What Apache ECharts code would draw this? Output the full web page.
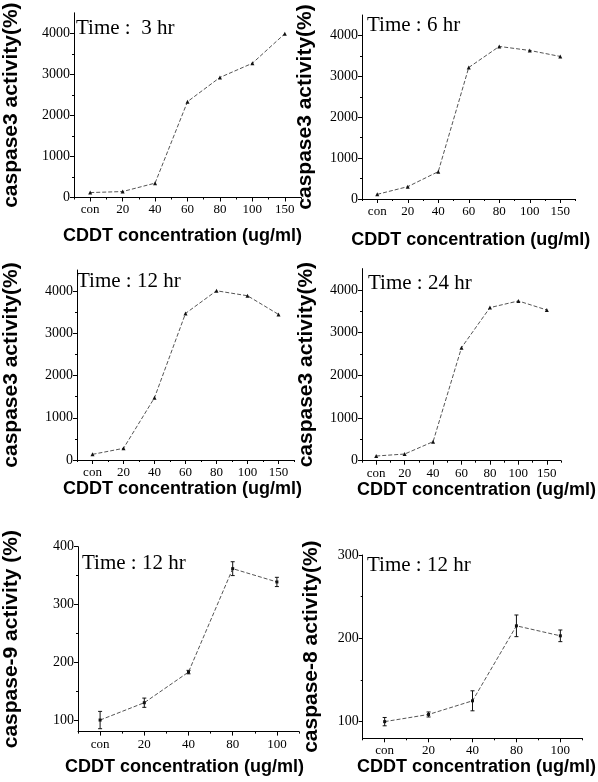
<!DOCTYPE html>
<html><head><meta charset="utf-8">
<script src="https://cdn.jsdelivr.net/npm/echarts@6/dist/echarts.min.js"></script>
<style>html,body{margin:0;padding:0;background:#fff}#c{width:598px;height:782px}</style>
</head><body><div id="c"></div>
<script>
// ---------- data ----------
const catsLong = ['con','20','40','60','80','100','150'];
const catsShort = ['con','20','40','80','100'];
const casp3_3hr  = [120, 145, 350, 2335, 2925, 3270, 3990];
const casp3_6hr  = [114, 302, 669, 3216, 3731, 3633, 3486];
const casp3_12hr = [134, 276, 1475, 3471, 4008, 3890, 3448];
const casp3_24hr = [110, 156, 445, 2648, 3586, 3742, 3531];
const casp9_12hr = [100, 130, 183, 362, 339];
const casp9_err  = [15, 8, 3, 12, 8];
const casp8_12hr = [100, 108.6, 125, 215, 203];
const casp8_err  = [5, 3, 12, 13, 7];
const yTicksCasp3 = [0, 1000, 2000, 3000, 4000];
const yMinorCasp3 = [500, 1500, 2500, 3500];
const yTicksCasp9 = [100, 200, 300, 400];
const yMinorCasp9 = [150, 250, 350];
const yTicksCasp8 = [100, 200, 300];
const yMinorCasp8 = [150, 250];
const panelTitles = ['Time :  3 hr', 'Time : 6 hr', 'Time : 12 hr', 'Time : 24 hr', 'Time : 12 hr', 'Time : 12 hr'];
const yNames = ['caspase3 activity(%)', 'caspase3 activity(%)', 'caspase3 activity(%)', 'caspase3 activity(%)', 'caspase-9 activity (%)', 'caspase-8 activity(%)'];
const xName = 'CDDT concentration (ug/ml)';

// ---------- layout (positions/styles) ----------
const panels = [
  {cats: catsLong, vals: casp3_3hr, err: null, yMin: 0, yMax: 4500, major: yTicksCasp3, minor: yMinorCasp3,
   grid: {left: 70, top: 12.8, width: 231, height: 184.7}, xGap: 30, xShift: -5, yGap: 52, title: [76, 17.5]},
  {cats: catsLong, vals: casp3_6hr, err: null, yMin: 0, yMax: 4500, major: yTicksCasp3, minor: yMinorCasp3,
   grid: {left: 362, top: 15, width: 213.5, height: 184}, xGap: 32, xShift: 2, yGap: 46, title: [367, 14.5]},
  {cats: catsLong, vals: casp3_12hr, err: null, yMin: 0, yMax: 4500, major: yTicksCasp3, minor: yMinorCasp3,
   grid: {left: 72, top: 270, width: 222, height: 190}, xGap: 19, xShift: -3, yGap: 55, title: [77, 270.5]},
  {cats: catsLong, vals: casp3_24hr, err: null, yMin: 0, yMax: 4500, major: yTicksCasp3, minor: yMinorCasp3,
   grid: {left: 362, top: 268.6, width: 210, height: 192.1}, xGap: 19, xShift: 15, yGap: 45, title: [368, 272.5]},
  {cats: catsShort, vals: casp9_12hr, err: casp9_err, yMin: 80, yMax: 400, major: yTicksCasp9, minor: yMinorCasp9,
   grid: {left: 74, top: 546.7, width: 225, height: 184.9}, xGap: 26, xShift: -4, yGap: 56, title: [82, 552.5]},
  {cats: catsShort, vals: casp8_12hr, err: casp8_err, yMin: 80, yMax: 300, major: yTicksCasp8, minor: yMinorCasp8,
   grid: {left: 362.7, top: 555, width: 222.5, height: 183.3}, xGap: 19, xShift: 4, yGap: 41, title: [367, 554.5]}
];

const black = '#000';
const serif = 'Liberation Serif';
const sans = 'Liberation Sans';

const grids = [], xAxes = [], yAxes = [], series = [], titles = [];

function errRender(params, api) {
  const i = api.value(0), v = api.value(1), e = api.value(2);
  const hi = api.coord([i, v + e]);
  const lo = api.coord([i, v - e]);
  const w = 2;
  const st = {stroke: '#111', lineWidth: 1};
  return {type: 'group', children: [
    {type: 'line', shape: {x1: hi[0], y1: hi[1], x2: lo[0], y2: lo[1]}, style: st},
    {type: 'line', shape: {x1: hi[0] - w, y1: hi[1], x2: hi[0] + w, y2: hi[1]}, style: st},
    {type: 'line', shape: {x1: lo[0] - w, y1: lo[1], x2: lo[0] + w, y2: lo[1]}, style: st}
  ]};
}

panels.forEach((p, k) => {
  grids.push(Object.assign({containLabel: false}, p.grid));
  const s = p.xShift;
  const pad = s >= 0 ? [0, 0, 0, 2 * s] : [0, -2 * s, 0, 0];
  xAxes.push({
    type: 'category', gridIndex: k, data: p.cats, position: 'bottom', boundaryGap: true,
    axisLine: {show: true, onZero: false, lineStyle: {color: black, width: 1}},
    axisTick: {show: true, length: 2, interval: 0, lineStyle: {color: black}},
    axisLabel: {show: true, interval: 0, margin: 6, fontFamily: serif, fontSize: 13, color: black},
    splitLine: {show: false},
    name: xName, nameLocation: 'middle', nameGap: p.xGap,
    nameTextStyle: {fontFamily: sans, fontWeight: 'bold', fontSize: 18, color: black, padding: pad}
  });
  xAxes.push({
    type: 'category', gridIndex: k, data: p.cats, position: 'bottom', boundaryGap: true,
    axisLine: {show: false, onZero: false},
    axisTick: {show: true, alignWithLabel: true, length: 4, interval: 0, lineStyle: {color: black}},
    axisLabel: {show: false}, splitLine: {show: false}
  });
  yAxes.push({
    type: 'value', gridIndex: k, min: p.yMin, max: p.yMax, position: 'left',
    axisLine: {show: true, onZero: false, lineStyle: {color: black, width: 1}},
    axisTick: {show: true, length: 4, customValues: p.major, lineStyle: {color: black}},
    axisLabel: {show: true, margin: 4, customValues: p.major, formatter: v => String(v),
                fontFamily: serif, fontSize: 14, color: black},
    splitLine: {show: false},
    name: yNames[k], nameLocation: 'middle', nameGap: p.yGap, nameRotate: 90,
    nameTextStyle: {fontFamily: sans, fontWeight: 'bold', fontSize: 21, color: black}
  });
  yAxes.push({
    type: 'value', gridIndex: k, min: p.yMin, max: p.yMax, position: 'left',
    axisLine: {show: false, onZero: false},
    axisTick: {show: true, length: 2, customValues: p.minor, lineStyle: {color: black}},
    axisLabel: {show: false}, splitLine: {show: false}
  });
  series.push({
    type: 'line', xAxisIndex: 2 * k, yAxisIndex: 2 * k, data: p.vals,
    symbol: p.err ? 'rect' : 'triangle', symbolSize: p.err ? 3 : 4,
    itemStyle: {color: '#111'},
    lineStyle: {color: '#555', width: 1, type: [4, 2]},
    silent: true
  });
  if (p.err) {
    series.push({
      type: 'custom', xAxisIndex: 2 * k, yAxisIndex: 2 * k,
      data: p.vals.map((v, i) => [i, v, p.err[i]]),
      encode: {x: 0, y: 1},
      renderItem: errRender, silent: true
    });
  }
  titles.push({
    text: panelTitles[k], left: p.title[0], top: p.title[1], padding: 0,
    textStyle: {fontFamily: serif, fontWeight: 'normal', fontSize: 21, color: black}
  });
});

const chart = echarts.init(document.getElementById('c'), null, {renderer: 'canvas'});
chart.setOption({
  animation: false,
  backgroundColor: '#fff',
  title: titles,
  grid: grids,
  xAxis: xAxes,
  yAxis: yAxes,
  series: series
});
</script>
</body></html>
